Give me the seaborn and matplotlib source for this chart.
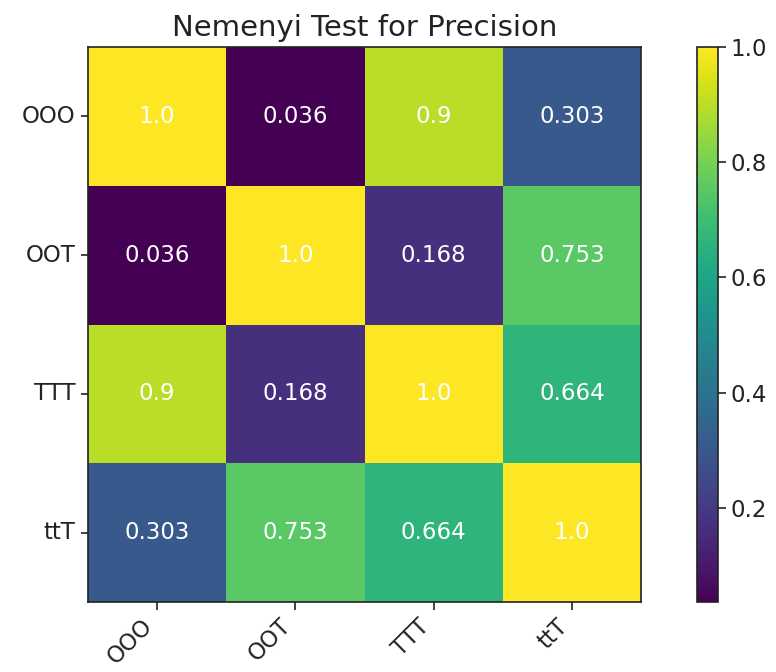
import numpy as np
import pandas as pd
import matplotlib
matplotlib.use("Agg")
import matplotlib.pyplot as plt
import seaborn as sns

labels = ["OOO", "OOT", "TTT", "ttT"]
row_ooo = [1.0, 0.036, 0.9, 0.303]
row_oot = [0.036, 1.0, 0.168, 0.753]
row_ttt = [0.9, 0.168, 1.0, 0.664]
row_ttt2 = [0.303, 0.753, 0.664, 1.0]
title = "Nemenyi Test for Precision"

data = pd.DataFrame([row_ooo, row_oot, row_ttt, row_ttt2], index=labels, columns=labels)
annot = data.map(lambda v: str(v))

plt.rcParams['font.family'] = ['DejaVu Sans']
fig = plt.figure(figsize=(7.76, 6.72), dpi=100)
ax = fig.add_axes([0.1134, 0.104, 0.713, 0.826])
cax = fig.add_axes([0.898, 0.104, 0.027, 0.826])

sns.heatmap(data, ax=ax, cbar_ax=cax, cmap="viridis", vmin=data.values.min(), vmax=data.values.max(),
            annot=annot, fmt="", annot_kws={"color": "white", "fontsize": 16.5},
            square=False)

for s in ax.spines.values():
    s.set_visible(True)
    s.set_color("#222222")
    s.set_linewidth(1.2)
cb = ax.collections[0].colorbar
cb.outline.set_visible(True)
cb.outline.set_linewidth(1.2)
cb.outline.set_edgecolor("#222222")
cb.set_ticks([0.2, 0.4, 0.6, 0.8, 1.0])
cb.ax.tick_params(labelsize=16.5, length=5.4, width=1.2, colors="#222222")

ax.tick_params(axis="both", labelsize=16.5, length=5.4, width=1.2, colors="#222222")
ax.set_xticklabels(labels, rotation=45, ha="right", rotation_mode="default")
ax.set_yticklabels(labels, rotation=0)
ax.set_xlabel("")
ax.set_ylabel("")
ax.set_title(title, fontsize=21, color="#222222", pad=8)

fig.savefig("out.png", dpi=100)
